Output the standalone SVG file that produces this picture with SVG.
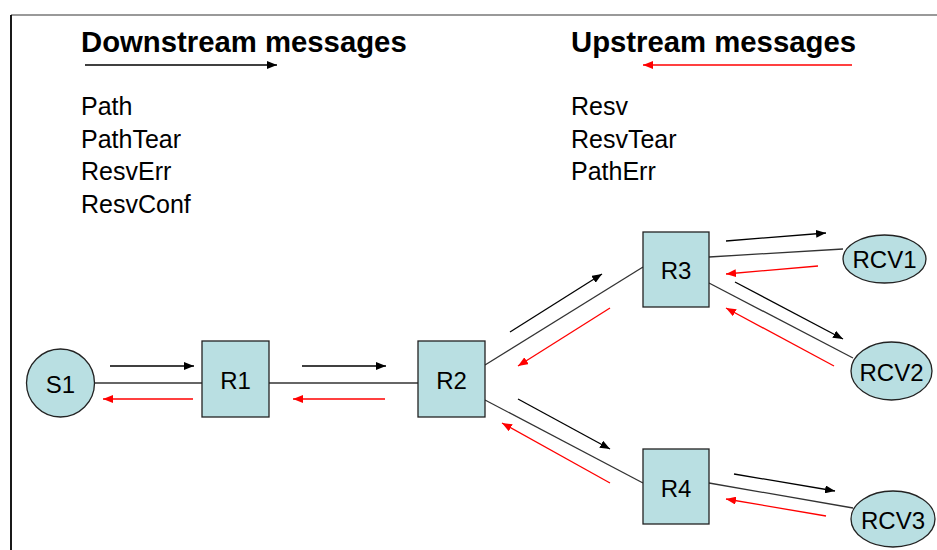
<svg xmlns="http://www.w3.org/2000/svg" width="937" height="550" viewBox="0 0 937 550">
  <defs>
    <marker id="ah-black" viewBox="0 0 10 8" refX="10" refY="4" markerWidth="10" markerHeight="8" markerUnits="userSpaceOnUse" orient="auto">
      <path d="M0,0 L10,4 L0,8 Z" fill="#000"/>
    </marker>
    <marker id="ah-red" viewBox="0 0 10 8" refX="10" refY="4" markerWidth="10" markerHeight="8" markerUnits="userSpaceOnUse" orient="auto">
      <path d="M0,0 L10,4 L0,8 Z" fill="#f00"/>
    </marker>
  </defs>
  <style>
    text { font-family: "Liberation Sans", Arial, sans-serif; fill: #000; }
    .title { font-size: 29.3px; font-weight: bold; }
    .item { font-size: 25px; }
    .lbl { font-size: 24px; text-anchor: middle; dominant-baseline: central; }
    .node { fill: #B9DFE2; stroke: #222; stroke-width: 1.3; }
    .link { stroke: #333; stroke-width: 1.3; fill: none; }
    .down { stroke: #000; stroke-width: 1.3; fill: none; marker-end: url(#ah-black); }
    .up { stroke: #f00; stroke-width: 1.3; fill: none; marker-end: url(#ah-red); }
  </style>

  <rect width="937" height="550" fill="#fff"/>

  <!-- slide frame -->
  <line x1="11" y1="15" x2="937" y2="15" stroke="#777" stroke-width="1.5"/>
  <line x1="11" y1="15" x2="11" y2="550" stroke="#000" stroke-width="1.8"/>

  <!-- legend -->
  <g id="legend-down">
    <text class="title" x="81" y="52">Downstream messages</text>
    <line class="down" x1="85" y1="65" x2="277" y2="65"/>
    <text class="item" x="81" y="115">Path</text>
    <text class="item" x="81" y="147.5">PathTear</text>
    <text class="item" x="81" y="180">ResvErr</text>
    <text class="item" x="81" y="212.5">ResvConf</text>
  </g>
  <g id="legend-up">
    <text class="title" x="571" y="52">Upstream messages</text>
    <line class="up" x1="852" y1="65" x2="643" y2="65"/>
    <text class="item" x="571" y="115">Resv</text>
    <text class="item" x="571" y="147.5">ResvTear</text>
    <text class="item" x="571" y="180">PathErr</text>
  </g>

  <!-- links and message arrows -->
  <g id="connectors">
    <line class="link" x1="94" y1="383" x2="202" y2="383"/>
    <line class="link" x1="269" y1="383" x2="418" y2="383"/>
    <line class="link" x1="485" y1="365" x2="643" y2="267"/>
    <line class="link" x1="485" y1="400" x2="643" y2="483"/>
    <line class="link" x1="709" y1="257" x2="843" y2="249"/>
    <line class="link" x1="709" y1="283" x2="853" y2="358"/>
    <line class="link" x1="709" y1="483" x2="853" y2="508"/>

    <line class="down" x1="110" y1="366" x2="194" y2="366"/>
    <line class="up" x1="193" y1="399" x2="103" y2="399"/>
    <line class="down" x1="302" y1="366" x2="386" y2="366"/>
    <line class="up" x1="385" y1="399" x2="293" y2="399"/>

    <line class="down" x1="510" y1="332" x2="602" y2="274"/>
    <line class="up" x1="610" y1="308" x2="518" y2="366"/>
    <line class="down" x1="518" y1="399" x2="610" y2="449"/>
    <line class="up" x1="610" y1="483" x2="502" y2="423"/>

    <line class="down" x1="726" y1="241" x2="826" y2="233"/>
    <line class="up" x1="818" y1="266" x2="726" y2="274"/>
    <line class="down" x1="735" y1="282" x2="843" y2="339"/>
    <line class="up" x1="834" y1="366" x2="726" y2="308"/>

    <line class="down" x1="734" y1="474" x2="835" y2="491"/>
    <line class="up" x1="826" y1="516" x2="726" y2="499"/>
  </g>

  <!-- nodes -->
  <g id="S1">
    <circle class="node" cx="60.5" cy="383" r="34"/>
    <text class="lbl" x="60.5" y="384">S1</text>
  </g>
  <g id="R1">
    <rect class="node" x="202" y="341" width="67" height="76"/>
    <text class="lbl" x="235.5" y="380">R1</text>
  </g>
  <g id="R2">
    <rect class="node" x="418" y="341" width="67" height="76"/>
    <text class="lbl" x="451.5" y="380">R2</text>
  </g>
  <g id="R3">
    <rect class="node" x="643" y="232" width="66" height="75"/>
    <text class="lbl" x="676" y="270">R3</text>
  </g>
  <g id="R4">
    <rect class="node" x="643" y="449" width="66" height="75"/>
    <text class="lbl" x="676" y="488">R4</text>
  </g>
  <g id="RCV1">
    <ellipse class="node" cx="884.5" cy="259" rx="41.5" ry="24"/>
    <text class="lbl" x="884.5" y="259">RCV1</text>
  </g>
  <g id="RCV2">
    <ellipse class="node" cx="891.5" cy="371" rx="40.5" ry="29"/>
    <text class="lbl" x="891.5" y="372">RCV2</text>
  </g>
  <g id="RCV3">
    <ellipse class="node" cx="893" cy="519" rx="42" ry="28"/>
    <text class="lbl" x="893" y="520">RCV3</text>
  </g>
</svg>
